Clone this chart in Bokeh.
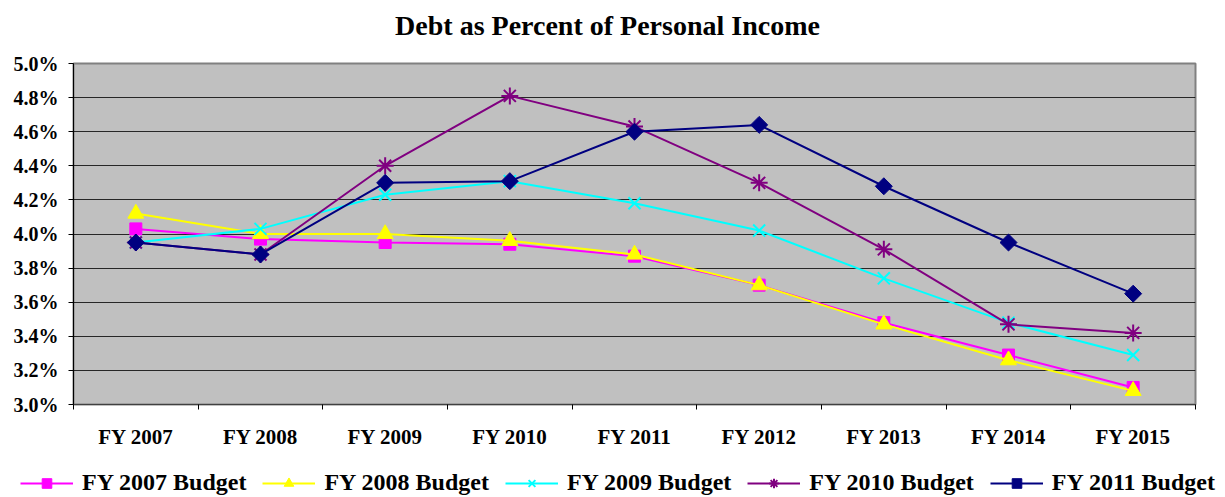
import math
from bokeh.plotting import figure
from bokeh.layouts import column
from bokeh.models import (FixedTicker, PrintfTickFormatter, Legend, LegendItem,
                          Range1d, ColumnDataSource, Label)
from bokeh.embed import file_html
from bokeh.resources import INLINE

categories = ["FY 2007", "FY 2008", "FY 2009", "FY 2010", "FY 2011",
              "FY 2012", "FY 2013", "FY 2014", "FY 2015"]

fy2007_budget = [4.03, 3.97, 3.95, 3.94, 3.87, 3.70, 3.48, 3.29, 3.10]
fy2008_budget = [4.12, 4.00, 4.00, 3.96, 3.88, 3.70, 3.47, 3.26, 3.08]
fy2009_budget = [3.95, 4.03, 4.23, 4.31, 4.18, 4.02, 3.74, 3.48, 3.29]
fy2010_budget = [3.95, 3.88, 4.40, 4.81, 4.63, 4.30, 3.91, 3.47, 3.42]
fy2011_budget = [3.95, 3.88, 4.30, 4.31, 4.60, 4.64, 4.28, 3.95, 3.65]

series_names = ["FY 2007 Budget", "FY 2008 Budget", "FY 2009 Budget",
                "FY 2010 Budget", "FY 2011 Budget"]
y_ticks = [3.0, 3.2, 3.4, 3.6, 3.8, 4.0, 4.2, 4.4, 4.6, 4.8, 5.0]
title_text = "Debt as Percent of Personal Income"

FONT = "Liberation Serif"

x_pos = list(range(1, len(categories) + 1))


def strip(height):
    f = figure(width=1225, height=height, output_backend="svg",
               toolbar_location=None, x_axis_type=None, y_axis_type=None,
               x_range=Range1d(-20, -10), y_range=Range1d(-20, -10),
               min_border=0, min_border_left=0, min_border_right=0,
               min_border_top=0, min_border_bottom=0)
    f.grid.grid_line_color = None
    f.outline_line_color = None
    f.background_fill_color = "white"
    f.border_fill_color = "white"
    return f


# title strip
tf = strip(50)
tf.add_layout(Label(x=607, y=25, x_units="screen", y_units="screen",
                    text=title_text, text_font=FONT, text_font_size="28px",
                    text_font_style="bold", text_color="black",
                    text_align="center", text_baseline="middle"))

# main chart
p = figure(width=1225, height=412, output_backend="svg", toolbar_location=None,
           x_range=Range1d(0.5, len(categories) + 0.5), y_range=Range1d(3.0, 5.0),
           min_border_left=73, min_border_right=30, min_border_top=13,
           min_border_bottom=58)

p.background_fill_color = "#C0C0C0"
p.border_fill_color = "white"
p.outline_line_color = "#808080"
p.outline_line_width = 2

# y axis
p.yaxis.ticker = FixedTicker(ticks=y_ticks)
p.yaxis.formatter = PrintfTickFormatter(format="%.1f%%")
p.yaxis.major_label_text_font = FONT
p.yaxis.major_label_text_font_size = "20px"
p.yaxis.major_label_text_font_style = "bold"
p.yaxis.major_label_text_color = "black"
p.yaxis.axis_line_color = "black"
p.yaxis.major_tick_line_color = "black"
p.yaxis.major_tick_out = 5
p.yaxis.major_tick_in = 0
p.yaxis.minor_tick_line_color = None
p.yaxis.major_label_standoff = 10

# x axis: labels at centers, tick marks at category boundaries
bounds = [i + 0.5 for i in range(0, len(categories) + 1)]
p.xaxis.ticker = FixedTicker(ticks=x_pos, minor_ticks=bounds)
p.xaxis.major_label_overrides = {x: c for x, c in zip(x_pos, categories)}
p.xaxis.major_tick_line_color = None
p.xaxis.minor_tick_line_color = "black"
p.xaxis.minor_tick_out = 5
p.xaxis.minor_tick_in = 0
p.xaxis.axis_line_color = "#404040"
p.xaxis.major_label_text_font = FONT
p.xaxis.major_label_text_font_size = "21px"
p.xaxis.major_label_text_font_style = "bold"
p.xaxis.major_label_text_color = "black"
p.xaxis.major_label_standoff = 14

p.xgrid.grid_line_color = None
p.ygrid.ticker = FixedTicker(ticks=y_ticks)
p.ygrid.grid_line_color = "black"
p.ygrid.grid_line_width = 1
p.ygrid.grid_line_alpha = 0.8

# (values, colour, marker, size, angle)
styles = [
    (fy2007_budget, "#FF00FF", "square", 12, 0.0),
    (fy2008_budget, "#FFFF00", "triangle", 16, 0.0),
    (fy2009_budget, "#00FFFF", "x", 17, 0.0),
    (fy2010_budget, "#800080", "asterisk", 17, 0.0),
    (fy2011_budget, "#000080", "square", 12, math.pi / 4),
]

# legend strip below the chart (its own series renderers sit outside its ranges)
lg = strip(35)


def add_series(fig, xs, ys, color, marker, size, angle):
    src = ColumnDataSource(dict(x=xs, y=ys))
    r1 = fig.line("x", "y", source=src, line_color=color, line_width=2)
    if marker in ("x", "asterisk"):
        r2 = fig.scatter("x", "y", source=src, marker=marker, size=size,
                         line_color=color, line_width=2, fill_color=None)
    else:
        r2 = fig.scatter("x", "y", source=src, marker=marker, size=size,
                         angle=angle, line_color=color, fill_color=color,
                         line_width=1)
    return r1, r2


items = []
for name, (vals, color, marker, size, angle) in zip(series_names, styles):
    add_series(p, x_pos, vals, color, marker, size, angle)
    r1, r2 = add_series(lg, x_pos, vals, color, marker, size, angle)
    items.append(LegendItem(label=name, renderers=[r1, r2]))

legend = Legend(items=items, orientation="horizontal", location=(20, 1),
                label_text_font=FONT, label_text_font_size="24px",
                label_text_font_style="bold", label_text_color="black",
                glyph_width=53, glyph_height=24, label_height=24,
                spacing=16, padding=0,
                margin=0, border_line_color=None, background_fill_alpha=0,
                label_standoff=9)
lg.add_layout(legend, "center")

layout = column(column(tf, spacing=0), p, column(lg, spacing=0), spacing=0)
open("out.html", "w").write(file_html(layout, INLINE))
